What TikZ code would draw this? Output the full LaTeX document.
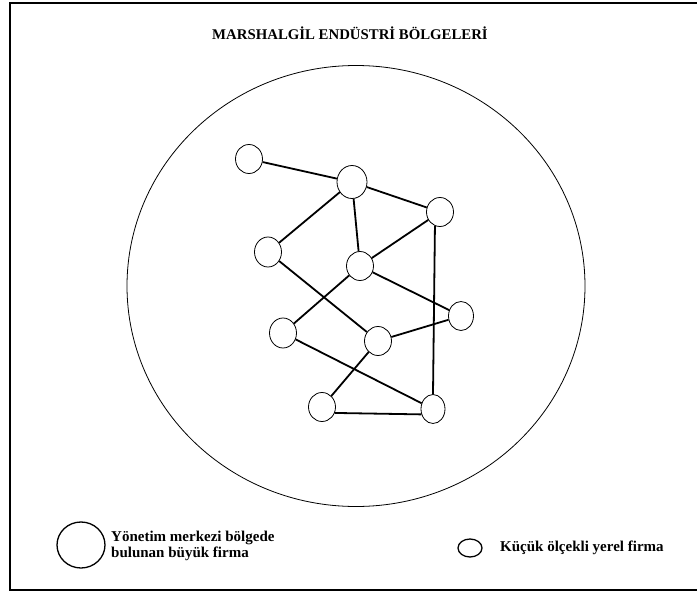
\documentclass[tikz,border=0pt]{standalone}
\usepackage{fontspec}
\setmainfont{Liberation Serif}
\usetikzlibrary{shapes.geometric}
\begin{document}
\begin{tikzpicture}[x=1pt,y=-1pt,
  firm/.style={draw, ellipse, line width=0.8pt, minimum width=27pt, minimum height=29pt, inner sep=0pt},
  bigfirm/.style={draw, ellipse, line width=1.3pt, minimum width=30pt, minimum height=33pt, inner sep=0pt},
  link/.style={line width=1.8pt},
  region/.style={draw, ellipse, line width=0.8pt, inner sep=0pt, minimum width=458pt, minimum height=441pt},
  lbl/.style={font=\bfseries\fontsize{15}{16.5}\selectfont, align=left, inner sep=0pt}]
\useasboundingbox (0,0) rectangle (697,592);
\fill[white] (0,0) rectangle (697,592);
% frame
\draw[line width=2.5pt] (697,3) -- (10,3) -- (10,590) -- (697,590);
% title
\node[font=\bfseries\fontsize{14.8}{17}\selectfont, inner sep=0pt] (title) at (350,33) {MARSHALGİL ENDÜSTRİ BÖLGELERİ};
% region
\node[region] (reg) at (356,286) {};
% firms
\node[firm] (n1) at (249,159) {};
\node[firm, minimum width=30pt, minimum height=33pt] (n2) at (352,182) {};
\node[firm] (n3) at (440,212) {};
\node[firm, minimum height=30pt] (n4) at (268,252) {};
\node[firm] (n5) at (360,266) {};
\node[firm, minimum width=25pt] (n6) at (461,316) {};
\node[firm, minimum height=30pt] (n7) at (283,333) {};
\node[firm] (n8) at (378,341) {};
\node[firm] (n9) at (322,407) {};
\node[firm, minimum width=24pt] (n10) at (433,409) {};
% links
\draw[link] (n1) -- (n2);
\draw[link] (n2) -- (n3);
\draw[link] (n2) -- (n4);
\draw[link] (n2) -- (n5);
\draw[link] (n3) -- (n5);
\draw[link] (n3.250) -- (n10.north);
\draw[link] (n4) -- (n8);
\draw[link] (n5) -- (n6);
\draw[link] (n5) -- (n7);
\draw[link] (n8) -- (n6);
\draw[link] (n7) -- (n10);
\draw[link] (n8) -- (n9);
\draw[link] (n9.-25) -- (n10.-155);
% legend
\node[bigfirm, minimum width=48pt, minimum height=46pt] (lgbig) at (81,545) {};
\node[lbl, anchor=west] (lgbigtxt) at (111,546) {Yönetim merkezi bölgede\\bulunan büyük firma};
\node[bigfirm, minimum width=24pt, minimum height=18pt] (lgsmall) at (470,548) {};
\node[lbl, anchor=west] (lgsmalltxt) at (500,548) {Küçük ölçekli yerel firma};
\end{tikzpicture}
\end{document}
